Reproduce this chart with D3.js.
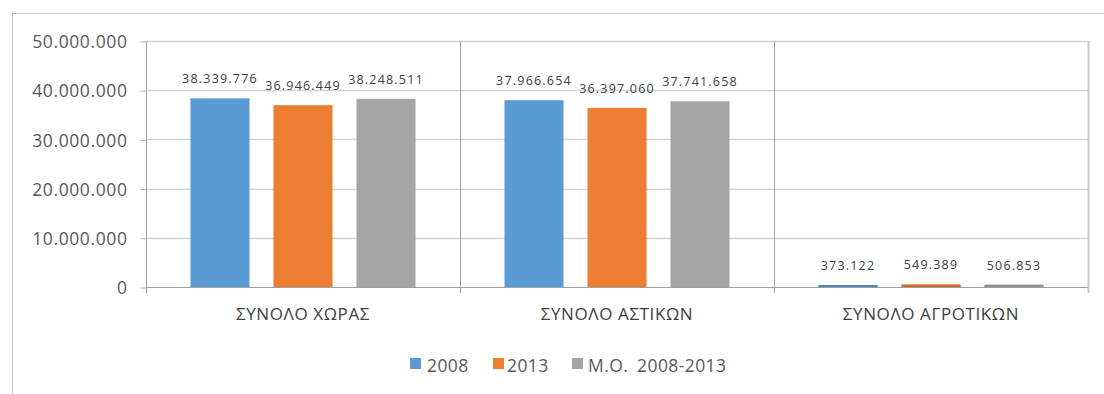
<!DOCTYPE html>
<html>
<head>
<meta charset="utf-8">
<script src="https://cdn.jsdelivr.net/npm/d3@7"></script>
<style>
  html, body { margin: 0; padding: 0; background: #fff; }
  svg { display: block; }
  text { font-family: "Open Sans", "DejaVu Sans", sans-serif; }
</style>
</head>
<body>
<svg id="chart" width="1104" height="394"></svg>
<script>
const categories = ["ΣΥΝΟΛΟ ΧΩΡΑΣ", "ΣΥΝΟΛΟ ΑΣΤΙΚΩΝ", "ΣΥΝΟΛΟ ΑΓΡΟΤΙΚΩΝ"];
const seriesNames = ["2008", "2013", "Μ.Ο. 2008-2013"];
const values2008 = [38339776, 37966654, 373122];
const values2013 = [36946449, 36397060, 549389];
const valuesAvg = [38248511, 37741658, 506853];
const yTicks = [0, 10000000, 20000000, 30000000, 40000000, 50000000];
const colors = ["#5b9bd5", "#ed7d31", "#a5a5a5"];

const seriesValues = [values2008, values2013, valuesAvg];

const locale = d3.formatLocale({ decimal: ",", thousands: ".", grouping: [3], currency: ["", "€"] });
const fmt = locale.format(",d");

const svg = d3.select("#chart");

// outer frame
svg.append("line").attr("x1", 12.5).attr("x2", 1104).attr("y1", 13.5).attr("y2", 13.5)
  .attr("stroke", "#c4c4c4").attr("stroke-width", 1);
svg.append("line").attr("x1", 12.5).attr("x2", 12.5).attr("y1", 13.5).attr("y2", 394)
  .attr("stroke", "#c4c4c4").attr("stroke-width", 1);

const plot = { left: 146, right: 1088, top: 41, bottom: 287 };

const x = d3.scaleBand().domain(categories).range([plot.left, plot.right]).paddingInner(0).paddingOuter(0);
const xInner = d3.scaleBand().domain(seriesNames).range([0, x.bandwidth()]).paddingInner(0.289).paddingOuter(0.536);
const y = d3.scaleLinear().domain([0, 50000000]).range([plot.bottom, plot.top]);

// gridlines
svg.append("g").selectAll("line").data(yTicks.filter(d => d > 0)).join("line")
  .attr("x1", plot.left).attr("x2", plot.right)
  .attr("y1", d => Math.round(y(d)) + 0.5).attr("y2", d => Math.round(y(d)) + 0.5)
  .attr("stroke", "#d4d4d4").attr("stroke-width", 1.5);

// y axis
const yAxis = d3.axisLeft(y).tickValues(yTicks).tickFormat(d => fmt(d)).tickSize(6).tickPadding(13);
const gy = svg.append("g").attr("transform", `translate(${plot.left + 0.5},0.5)`).call(yAxis);
gy.select(".domain").attr("stroke", "#a0a0a0").attr("d", `M0,${plot.top}V${plot.bottom + 6}`);
gy.selectAll(".tick line").attr("stroke", "#b0b0b0");
gy.selectAll(".tick text").attr("fill", "#595959").style("font-size", "17.5px")
  .style("letter-spacing", "0.6px").attr("dy", "0.35em");

// category dividers
const dividers = categories.map(c => x(c) + x.bandwidth());
svg.append("g").selectAll("line").data(dividers).join("line")
  .attr("x1", d => Math.round(d) + 0.5).attr("x2", d => Math.round(d) + 0.5)
  .attr("y1", plot.top).attr("y2", plot.bottom + 6)
  .attr("stroke", d => d >= plot.right - 1 ? "#c8c8c8" : "#a0a0a0").attr("stroke-width", d => d >= plot.right - 1 ? 2 : 1);

// bars
const groups = svg.append("g").selectAll("g").data(categories).join("g")
  .attr("transform", d => `translate(${x(d)},0)`);

seriesNames.forEach((s, si) => {
  groups.append("rect")
    .attr("x", xInner(s))
    .attr("width", xInner.bandwidth())
    .attr("y", (d, i) => y(seriesValues[si][i]))
    .attr("height", (d, i) => Math.max(plot.bottom - y(seriesValues[si][i]), 2))
    .attr("fill", colors[si]);
});

// x axis line
svg.append("line").attr("x1", plot.left).attr("x2", plot.right)
  .attr("y1", plot.bottom + 0.5).attr("y2", plot.bottom + 0.5)
  .attr("stroke", "#a0a0a0").attr("stroke-width", 1);

// redraw small bars above axis line
seriesNames.forEach((s, si) => {
  groups.filter((d, i) => plot.bottom - y(seriesValues[si][i]) < 4).append("rect")
    .attr("x", xInner(s))
    .attr("width", xInner.bandwidth())
    .attr("y", plot.bottom - 2)
    .attr("height", 2.5)
    .attr("fill", d3.color(colors[si]).darker(0.4));
});

// data labels
seriesNames.forEach((s, si) => {
  groups.append("text")
    .attr("x", xInner(s) + xInner.bandwidth() / 2)
    .attr("y", (d, i) => Math.min(y(seriesValues[si][i]), plot.bottom - 2) - 15)
    .attr("text-anchor", "middle")
    .attr("fill", "#404040")
    .style("font-size", "12.5px")
    .style("letter-spacing", "1.2px")
    .text((d, i) => fmt(seriesValues[si][i]));
});

// category labels
svg.append("g").selectAll("text").data(categories).join("text")
  .attr("x", d => x(d) + x.bandwidth() / 2)
  .attr("y", 320)
  .attr("text-anchor", "middle")
  .attr("fill", "#404040")
  .style("font-size", "17px")
  .style("letter-spacing", "0.6px")
  .text(d => d);

// legend
const legendItems = [
  { name: seriesNames[0], sx: 410, tx: 427 },
  { name: seriesNames[1], sx: 493, tx: 507 },
  { name: seriesNames[2], sx: 572, tx: 588 }
];
const lg = svg.append("g");
legendItems.forEach((it, i) => {
  lg.append("rect").attr("x", it.sx).attr("y", 358).attr("width", 11).attr("height", 11).attr("fill", colors[i]);
  lg.append("text").attr("x", it.tx).attr("y", 371.5).attr("fill", "#595959")
    .style("font-size", "17.5px").style("letter-spacing", "0.4px").style("word-spacing", "4px")
    .text(it.name);
});
</script>
</body>
</html>
